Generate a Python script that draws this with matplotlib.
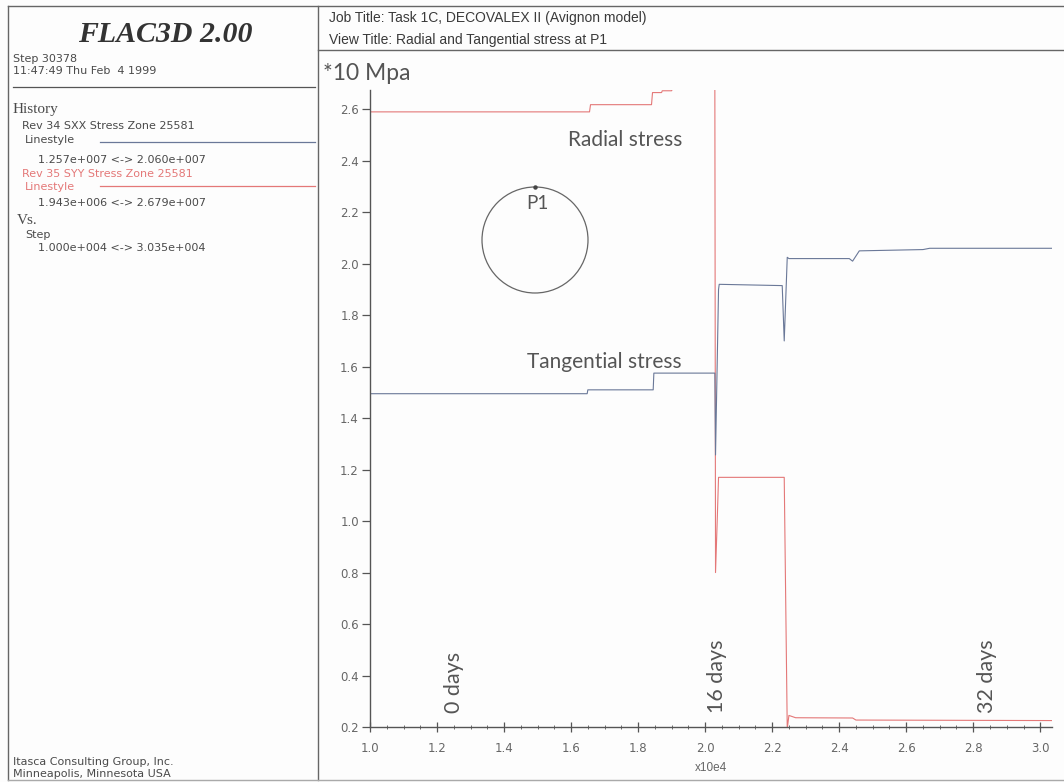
import matplotlib
matplotlib.use("Agg")
import matplotlib.pyplot as plt
from matplotlib.patches import Ellipse
from matplotlib.lines import Line2D

# ---- history data (stress in units of 10 MPa, step in units of 1e4) ----
step_radial = [1.000, 1.655, 1.658, 1.840, 1.843, 1.870, 1.872, 1.900, 1.902, 2.029,
               2.031, 2.036, 2.040, 2.236, 2.245, 2.250, 2.270, 2.440, 2.450, 3.035]
radial = [2.590, 2.590, 2.618, 2.618, 2.665, 2.665, 2.672, 2.672, 2.679, 2.679,
          0.800, 1.000, 1.170, 1.170, 0.194, 0.245, 0.236, 0.235, 0.227, 0.225]

step_tang = [1.000, 1.648, 1.650, 1.845, 1.847, 2.029, 2.031, 2.040, 2.042, 2.230,
             2.236, 2.245, 2.250, 2.430, 2.440, 2.460, 2.650, 2.670, 3.035]
tang = [1.495, 1.495, 1.510, 1.510, 1.575, 1.575, 1.257, 1.900, 1.920, 1.915,
        1.700, 2.025, 2.020, 2.020, 2.010, 2.050, 2.055, 2.060, 2.060]

xticks = [1.0, 1.2, 1.4, 1.6, 1.8, 2.0, 2.2, 2.4, 2.6, 2.8, 3.0]
yticks = [0.2, 0.4, 0.6, 0.8, 1.0, 1.2, 1.4, 1.6, 1.8, 2.0, 2.2, 2.4, 2.6]
day_marks = [("0 days", 1.25), ("16 days", 2.035), ("32 days", 2.84)]

RED = "#e47878"
BLUE = "#6a7898"
TXT = "#4a4a4a"
GRID = "#555555"
LABEL = "#555555"

W, H = 1064, 782


def fx(x):
    return x / W


def fy(y):
    return 1 - y / H


fig = plt.figure(figsize=(W / 100, H / 100), dpi=100)
fig.patch.set_facecolor("#fdfdfd")

# ---- page frame ----
frame = dict(color="#666666", lw=1.0, transform=fig.transFigure)
fig.add_artist(Line2D([fx(8), fx(8)], [fy(6), fy(780)], **frame))
fig.add_artist(Line2D([fx(318), fx(318)], [fy(6), fy(780)], **frame))
fig.add_artist(Line2D([fx(8), fx(1064)], [fy(6), fy(6)], **frame))
fig.add_artist(Line2D([fx(8), fx(1064)], [fy(780), fy(780)], color="#aaaaaa", lw=1.0,
                      transform=fig.transFigure))
fig.add_artist(Line2D([fx(318), fx(1064)], [fy(50), fy(50)], **frame))

# ---- left info panel ----
fig.text(fx(165), fy(34), "FLAC3D 2.00", family="Liberation Serif", style="italic",
         weight="bold", fontsize=21.5, color="#333333", ha="center", va="center")
small = dict(family="DejaVu Sans", fontsize=8, color=TXT, va="center")
fig.text(fx(13), fy(59), "Step 30378", **small)
fig.text(fx(13), fy(71), "11:47:49 Thu Feb  4 1999", **small)
fig.add_artist(Line2D([fx(13), fx(315)], [fy(87), fy(87)], color="#555555", lw=0.9,
                      transform=fig.transFigure))
fig.text(fx(13), fy(110), "History", family="Liberation Serif", fontsize=11, color=TXT,
         va="center")
fig.text(fx(22), fy(126), "Rev 34 SXX Stress Zone 25581", **small)
fig.text(fx(25), fy(140), "Linestyle", **small)
fig.add_artist(Line2D([fx(100), fx(315)], [fy(142), fy(142)], color=BLUE, lw=0.9,
                      transform=fig.transFigure))
fig.text(fx(38), fy(160), "1.257e+007 <-> 2.060e+007", **small)
small_red = dict(small, color=RED)
fig.text(fx(22), fy(174), "Rev 35 SYY Stress Zone 25581", **small_red)
fig.text(fx(25), fy(187), "Linestyle", **small_red)
fig.add_artist(Line2D([fx(100), fx(315)], [fy(186), fy(186)], color=RED, lw=0.9,
                      transform=fig.transFigure))
fig.text(fx(38), fy(203), "1.943e+006 <-> 2.679e+007", **small)
fig.text(fx(17), fy(221), "Vs.", family="Liberation Serif", fontsize=11, color=TXT,
         va="center")
fig.text(fx(25), fy(235), "Step", **small)
fig.text(fx(38), fy(248), "1.000e+004 <-> 3.035e+004", **small)
fig.text(fx(13), fy(762), "Itasca Consulting Group, Inc.", **small)
fig.text(fx(13), fy(774), "Minneapolis, Minnesota USA", **small)

# ---- header ----
head = dict(family="Liberation Sans", fontsize=10, color="#3a3a3a", va="center")
fig.text(fx(329), fy(18), "Job Title: Task 1C, DECOVALEX II (Avignon model)", **head)
fig.text(fx(329), fy(40), "View Title: Radial and Tangential stress at P1", **head)

# ---- plot axes ----
ax = fig.add_axes([fx(370), fy(727), (1052 - 370) / W, (727 - 90) / H])
ax.set_facecolor("none")
ax.plot(step_radial, radial, color=RED, lw=0.8)
ax.plot(step_tang, tang, color=BLUE, lw=0.8)
ax.set_xlim(1.0, 3.035)
ax.set_ylim(0.2, 2.675)
ax.set_xticks(xticks)
ax.set_xticklabels([f"{v:.1f}" for v in xticks])
ax.set_yticks(yticks)
ax.set_yticklabels([f"{v:.1f}" for v in yticks])
ax.set_xticks([1.0 + 0.05 * i for i in range(41)], minor=True)
for s in ("top", "right"):
    ax.spines[s].set_visible(False)
for s in ("left", "bottom"):
    ax.spines[s].set_color(GRID)
    ax.spines[s].set_linewidth(1.0)
ax.tick_params(axis="y", direction="out", length=6, width=0.9, color=GRID, pad=2,
               labelsize=8.5, labelcolor="#666666")
ax.tick_params(axis="x", which="major", direction="inout", length=7, width=0.9,
               color=GRID, pad=7, labelsize=8.5, labelcolor="#666666")
ax.tick_params(axis="x", which="minor", direction="inout", length=2.5, width=0.6,
               color=GRID)

# day markers along the bottom
for label, xv in day_marks:
    ax.text(xv, 0.255, label, rotation=90, family="Lato", fontsize=15.5,
            color=LABEL, ha="center", va="bottom")

# curve labels
lab = dict(family="Lato", fontsize=15, color=LABEL, ha="center", va="center")
fig.text(fx(625), fy(140), "Radial stress", **lab)
fig.text(fx(604), fy(362), "Tangential stress", **lab)
fig.text(fx(323), fy(73), "*10 Mpa", family="Lato", fontsize=16.5,
         color=LABEL, ha="left", va="center")
fig.text(fx(711), fy(768), "x10e4", family="Liberation Sans", fontsize=8.5,
         color="#666666", ha="center", va="center")

# borehole sketch with monitoring point P1
fig.add_artist(Ellipse((fx(535), fy(240)), 106 / W, 106 / H, fill=False,
                       edgecolor="#666666", lw=0.9, transform=fig.transFigure))
fig.add_artist(Line2D([fx(535)], [fy(187)], marker="o", markersize=2.2,
                      color="#444444", transform=fig.transFigure))
fig.text(fx(537), fy(203), "P1", family="Lato", fontsize=13.5,
         color=LABEL, ha="center", va="center")

fig.savefig("out.png", dpi=100, facecolor=fig.get_facecolor())
